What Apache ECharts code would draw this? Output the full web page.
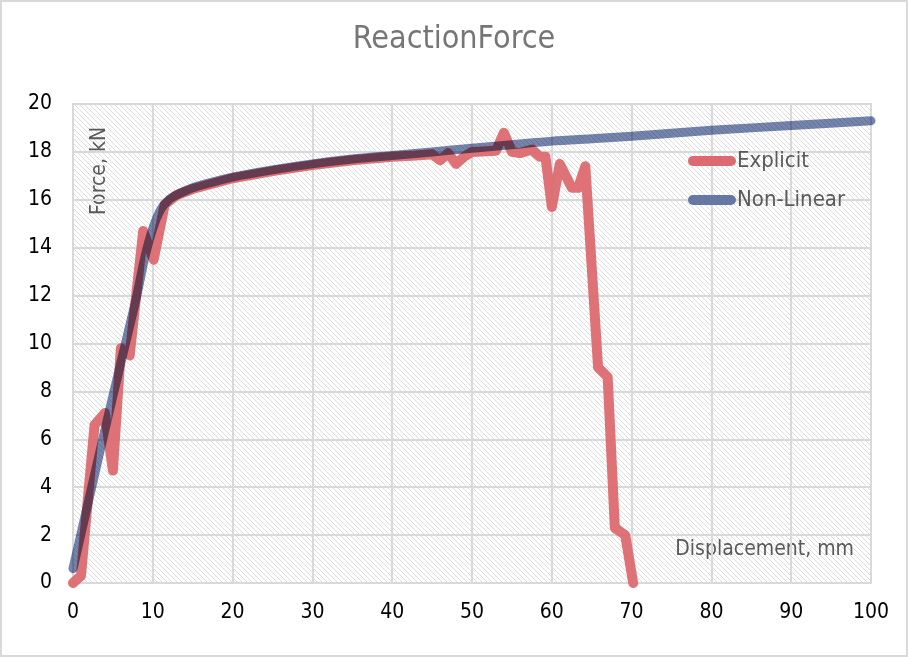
<!DOCTYPE html>
<html>
<head>
<meta charset="utf-8">
<title>Reaction Force</title>
<script src="https://cdn.jsdelivr.net/npm/echarts@6/dist/echarts.min.js"></script>
<style>
  html, body { margin: 0; padding: 0; background: #fff; }
  #chart { width: 908px; height: 657px; }
</style>
</head>
<body>
<div id="chart"></div>
<script>
// displacement (mm), force (kN) pairs
const explicitDisp = [0, 1, 2.7, 4, 5, 6, 7.1, 8.8, 10.1, 11.5, 13, 15, 20, 25, 30, 35, 40, 43, 45,
  46, 47, 48, 49, 50, 53, 54, 55, 56, 57.5, 58.5, 59.2, 60, 61, 62.5, 63.3, 64.2, 65.8, 67, 67.9, 69.2, 70.2]
const explicitForce = [0, 0.3, 6.6, 7.1, 4.7, 9.8, 9.5, 14.7, 13.5, 15.8, 16.2, 16.45, 16.9, 17.2, 17.45, 17.65, 17.8, 17.85, 17.9,
  17.65, 17.95, 17.5, 17.8, 18.0, 18.05, 18.8, 18.0, 17.95, 18.1, 17.8, 17.8, 15.7, 17.5, 16.5, 16.5, 17.4, 9.0, 8.6, 2.3, 2.0, 0]

const nonLinearDisp = [0, 2, 4, 6, 8, 9, 10, 11, 12, 13, 15, 17, 20, 25, 30, 35, 40, 45, 50, 55, 60, 65, 70, 80, 90, 100]
const nonLinearForce = [0.6, 3.5, 6.4, 9.2, 12.0, 13.6, 14.8, 15.6, 16.0, 16.2, 16.5, 16.7, 16.95, 17.25, 17.5, 17.7, 17.85, 18.0,
  18.15, 18.3, 18.45, 18.55, 18.65, 18.9, 19.1, 19.3]

const xTicks = { min: 0, max: 100, interval: 10 }
const yTicks = { min: 0, max: 20, interval: 2 }

const FONT = '"DejaVu Sans Condensed", "Liberation Sans Narrow", "Roboto", sans-serif'

function zip(xs, ys) {
  return xs.map((x, i) => [x, ys[i]])
}

// light diagonal hatch for the plot area
function makeHatch() {
  const c = document.createElement('canvas')
  c.width = 5
  c.height = 5
  const ctx = c.getContext('2d')
  ctx.fillStyle = '#ffffff'
  ctx.fillRect(0, 0, 5, 5)
  ctx.strokeStyle = '#dddddd'
  ctx.lineWidth = 1
  ctx.beginPath()
  ctx.moveTo(-1, -1)
  ctx.lineTo(6, 6)
  ctx.moveTo(-1, 4)
  ctx.lineTo(1, 6)
  ctx.moveTo(4, -1)
  ctx.lineTo(6, 1)
  ctx.stroke()
  return c
}

const chart = echarts.init(document.getElementById('chart'), null, { renderer: 'canvas' })

const gridLine = { color: '#d9d9d9', width: 2 }
const pill = 'path://M5,0 L43,0 A5,5 0 0 1 43,10 L5,10 A5,5 0 0 1 5,0 Z'

chart.setOption({
  animation: false,
  backgroundColor: '#fff',
  title: {
    text: 'ReactionForce',
    left: 'center',
    top: 19,
    textStyle: { fontFamily: FONT, fontSize: 32, fontWeight: 'normal', color: '#767676' }
  },
  legend: {
    orient: 'vertical',
    left: 683,
    top: 145,
    itemWidth: 48,
    itemHeight: 10,
    itemGap: 17,
    textStyle: { fontFamily: FONT, fontSize: 22, color: '#595959', padding: [0, 0, 0, -4] },
    data: [
      { name: 'Explicit', icon: pill, itemStyle: { color: '#dc6a70' } },
      { name: 'Non-Linear', icon: pill, itemStyle: { color: '#6677a3' } }
    ]
  },
  grid: {
    left: 73,
    right: 37,
    top: 104,
    bottom: 74,
    show: true,
    borderColor: '#d9d9d9',
    borderWidth: 2,
    backgroundColor: { image: makeHatch(), repeat: 'repeat' }
  },
  xAxis: {
    type: 'value',
    min: xTicks.min,
    max: xTicks.max,
    interval: xTicks.interval,
    axisLine: { show: true, lineStyle: gridLine },
    axisTick: { show: false },
    splitLine: { show: true, lineStyle: gridLine },
    axisLabel: { fontFamily: FONT, fontSize: 21, color: '#000', margin: 19 }
  },
  yAxis: {
    type: 'value',
    min: yTicks.min,
    max: yTicks.max,
    interval: yTicks.interval,
    axisLine: { show: true, lineStyle: gridLine },
    axisTick: { show: false },
    splitLine: { show: true, lineStyle: gridLine },
    axisLabel: { fontFamily: FONT, fontSize: 21, color: '#000', margin: 21 }
  },
  graphic: [
    {
      type: 'rect',
      shape: { x: 1, y: 1, width: 906, height: 655 },
      style: { fill: null, stroke: '#d9d9d9', lineWidth: 2 },
      silent: true
    },
    {
      type: 'text',
      x: 100,
      y: 215,
      rotation: Math.PI / 2,
      style: { text: 'Force, kN', fontFamily: FONT, fontSize: 21, fill: '#595959', textAlign: 'left', textVerticalAlign: 'middle' },
      silent: true
    },
    {
      type: 'text',
      x: 854,
      y: 550,
      style: { text: 'Displacement, mm', fontFamily: FONT, fontSize: 21, fill: '#595959', textAlign: 'right', textVerticalAlign: 'middle' },
      silent: true
    }
  ],
  series: [
    {
      name: 'Explicit',
      type: 'line',
      data: zip(explicitDisp, explicitForce),
      showSymbol: false,
      symbol: 'none',
      color: '#dc6a70',
      lineStyle: { width: 10, color: '#dc6a70', opacity: 0.95, cap: 'round', join: 'round' },
      z: 2
    },
    {
      name: 'Non-Linear',
      type: 'line',
      data: zip(nonLinearDisp, nonLinearForce),
      smooth: 0.3,
      showSymbol: false,
      symbol: 'none',
      color: '#6677a3',
      blendMode: 'multiply',
      lineStyle: { width: 9, color: '#6677a3', opacity: 0.9, cap: 'round', join: 'round' },
      z: 3
    }
  ]
})
</script>
</body>
</html>
